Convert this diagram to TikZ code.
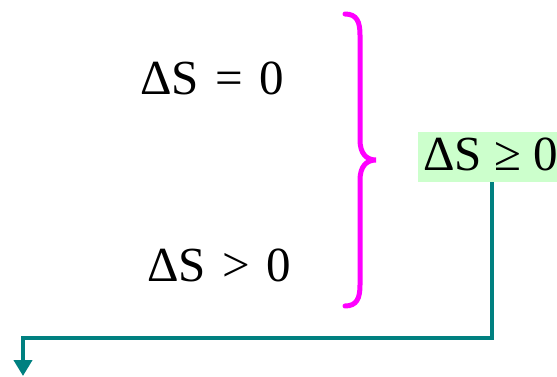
\documentclass[tikz,border=0pt]{standalone}
\usepackage{fontspec}
\setmainfont{Liberation Serif}
\usetikzlibrary{arrows.meta}
\definecolor{brc}{RGB}{255,0,255}
\definecolor{lnc}{RGB}{0,128,128}
\definecolor{gfill}{RGB}{204,255,204}
\newcommand{\gapsp}{\hspace{4pt}}
\begin{document}
\begin{tikzpicture}[x=1pt,y=-1pt,
  eq/.style={font=\fontsize{49}{52}\selectfont, inner sep=0pt, anchor=base west},
  res/.style={font=\fontsize{49}{52}\selectfont, fill=gfill, inner xsep=5pt, inner ysep=0pt, text height=38pt, text depth=12pt, anchor=base west},
  brace/.style={draw=brc, line width=5pt, line cap=round},
  conn/.style={draw=lnc, line width=4.5pt, -{Triangle[length=16pt,width=18pt]}}]
\useasboundingbox (0,0) rectangle (557,376);
\node[eq] (e1) at (140,94) {ΔS\gapsp{} =\gapsp{} 0};
\node[eq] (e2) at (147,281) {ΔS\gapsp{} >\gapsp{} 0};
\node[res] (r) at (418,170) {ΔS ≥ 0};
\draw[brace] (345,14) .. controls (357,14) and (360,22) .. (360,35) -- (360,140)
  .. controls (360,153) and (366,160) .. (376,160)
  .. controls (366,160) and (360,167) .. (360,180) -- (360,285)
  .. controls (360,298) and (357,306) .. (345,306);
\coordinate (top) at (492,0);
\coordinate (corner) at (23,338);
\coordinate (tip) at (23,376);
\draw[conn] (r.south -| top) |- (corner) -- (tip);
\end{tikzpicture}
\end{document}
